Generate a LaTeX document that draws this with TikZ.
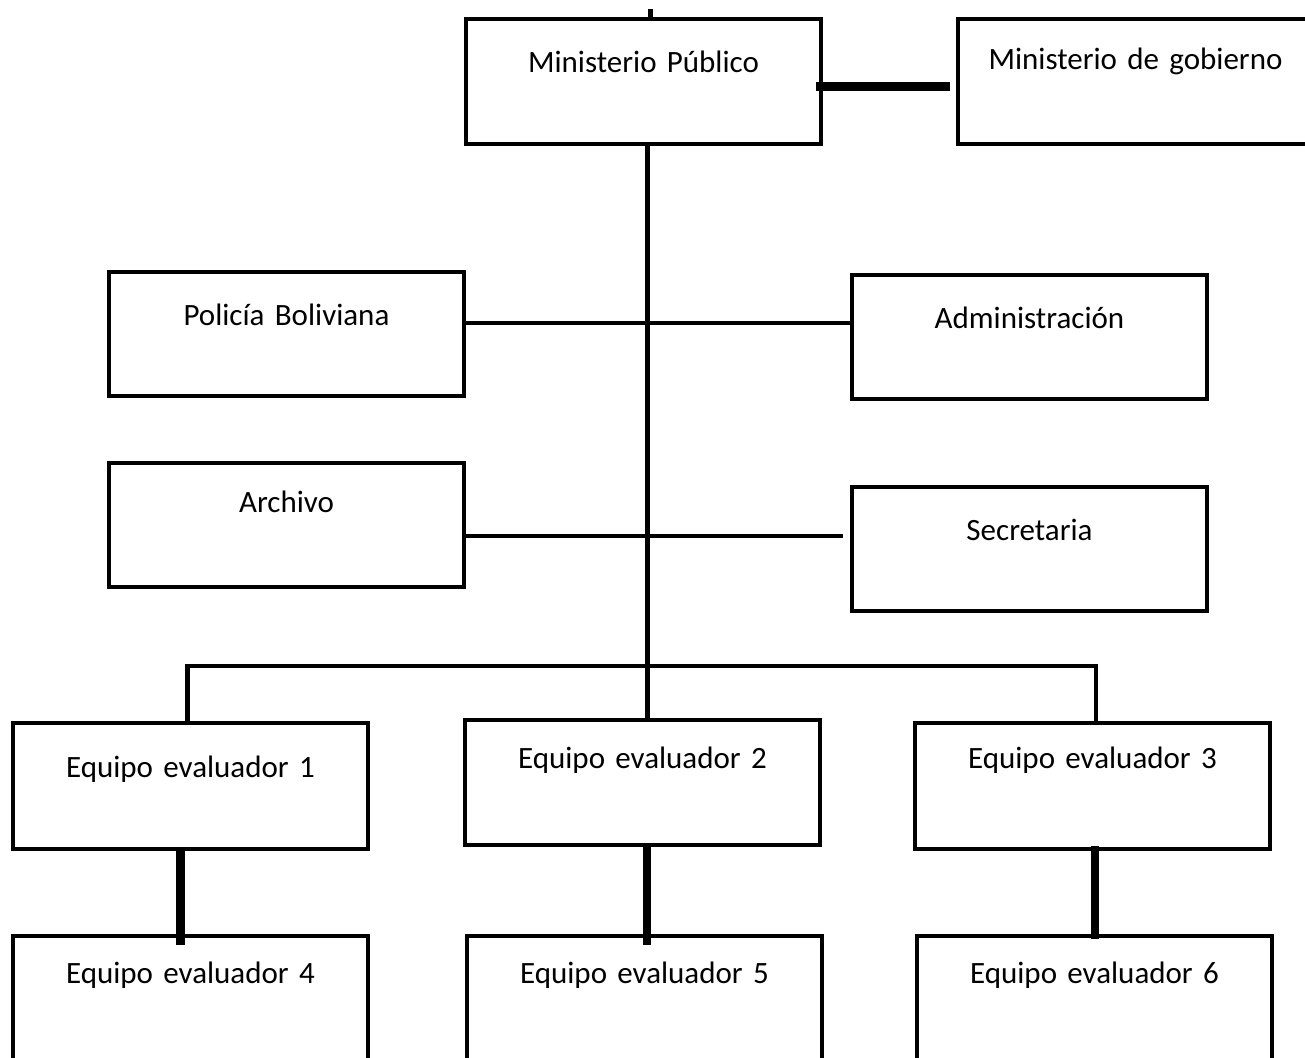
\documentclass[tikz,border=0pt]{standalone}
\usepackage{fontspec}
\setmainfont{Carlito}
\usepackage{tikz}
\usetikzlibrary{calc}
\tikzstyle{caja}   = [draw, line width=4pt, inner sep=0pt, anchor=north west, text width=355pt, align=center, font=\fontsize{31}{36}\selectfont]
\tikzstyle{linea}  = [line width=4.5pt]
\tikzstyle{gruesa} = [line width=8.5pt]

\begin{document}
\begin{tikzpicture}[x=1pt,y=-1pt]
  \useasboundingbox (0,0) rectangle (1305,1057);

  % top row
  \node[caja,text height=54pt,text depth=71pt] (minpub) at (464,17) {Ministerio Público};
  \node[caja,text height=50pt,text depth=75pt] (gob) at (956,17) {Ministerio de gobierno};

  % side units
  \node[caja,text height=53pt,text depth=71pt] (pol)  at (107,270) {Policía Boliviana};
  \node[caja,text height=53pt,text depth=71pt] (adm)  at (850,273) {Administración};
  \node[caja,text height=49pt,text depth=75pt] (arch) at (107,461) {Archivo};
  \node[caja,text height=53pt,text depth=71pt] (sec)  at (850,485) {Secretaria};

  % teams
  \node[caja,text height=54pt,text depth=72pt] (eq1) at (11,721)  {Equipo evaluador 1};
  \node[caja,text height=48pt,text depth=77pt] (eq2) at (463,718) {Equipo evaluador 2};
  \node[caja,text height=45pt,text depth=81pt] (eq3) at (913,721) {Equipo evaluador 3};
  \node[caja,text height=47pt,text depth=93pt] (eq4) at (11,934)  {Equipo evaluador 4};
  \node[caja,text height=47pt,text depth=93pt] (eq5) at (465,934) {Equipo evaluador 5};
  \node[caja,text height=47pt,text depth=93pt] (eq6) at (915,934) {Equipo evaluador 6};

  % connectors
  \coordinate (tope) at ($(minpub.north)+(7,-8)$);
  \draw[line width=5pt] ([xshift=7pt]minpub.north) -- (tope);
  \draw[gruesa] ([xshift=-7pt,yshift=-5pt]minpub.east) -- ([xshift=-6pt,yshift=-5pt]gob.west);
  \draw[linea] ([xshift=4pt]minpub.south) -- ([xshift=4pt]minpub.south |- eq2.north);
  \draw[linea] (pol.east |- 0,323) -- (adm.west |- 0,323);
  \draw[linea] (arch.east |- 0,536) -- ([xshift=-7pt]sec.west |- 0,536);
  \draw[linea] ([xshift=-3pt]eq1.north) -- ++(0,-55) -| ([xshift=3.5pt]eq3.north);
  \draw[gruesa] ([xshift=-10pt]eq1.south) -- ([xshift=-10pt]eq1.south |- 0,945);
  \draw[gruesa] ([xshift=4.5pt,yshift=4pt]eq2.south) -- ([xshift=4.5pt]eq2.south |- 0,945);
  \draw[gruesa] ([xshift=2.5pt,yshift=5pt]eq3.south) -- ([xshift=2.5pt]eq3.south |- 0,939);
\end{tikzpicture}
\end{document}
